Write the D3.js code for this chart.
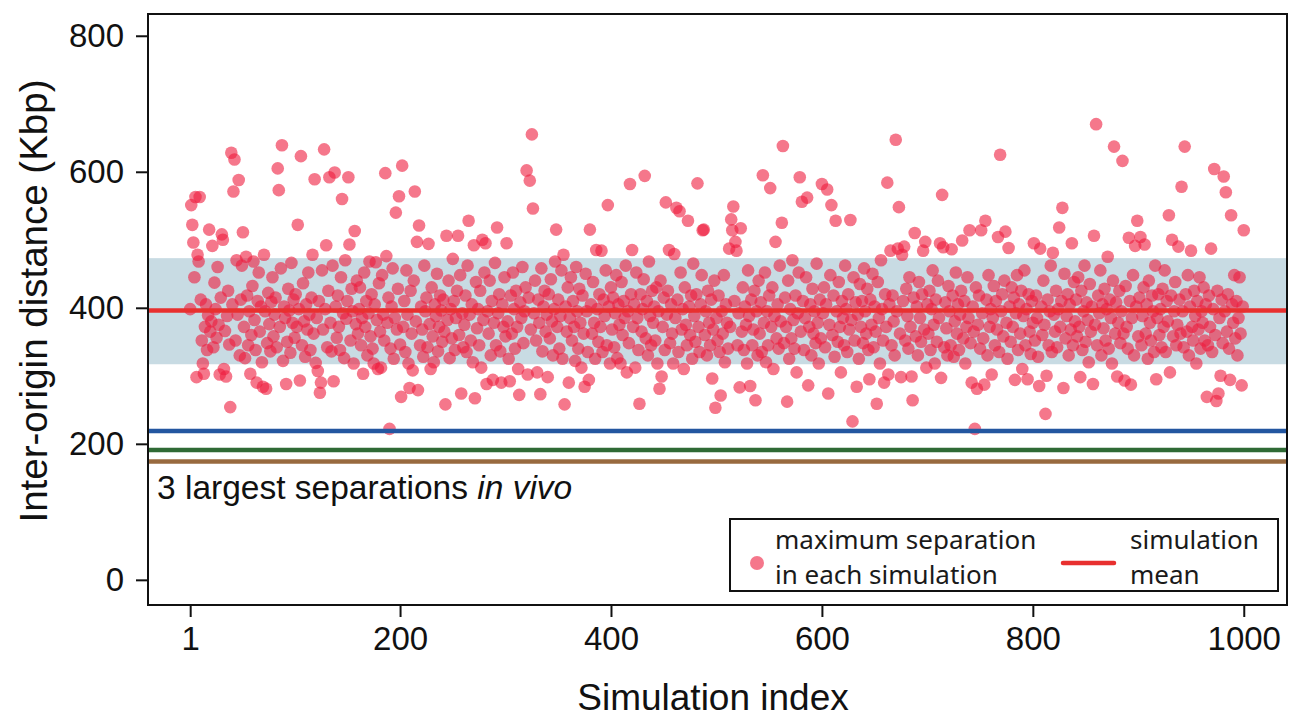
<!DOCTYPE html>
<html>
<head>
<meta charset="utf-8">
<script src="https://cdn.jsdelivr.net/npm/d3@7"></script>
<style>
  body { margin: 0; background: #fff; }
  svg { display: block; }
  .tick text { font-family: "Liberation Sans", Arial, sans-serif; font-size: 33px; fill: #111; }
  .label { font-family: "Liberation Sans", Arial, sans-serif; font-size: 37px; fill: #111; }
  .legend { font-family: "Noto Sans", sans-serif; font-size: 26px; fill: #1a1a1a; }
</style>
</head>
<body>
<svg width="1290" height="717"></svg>
<script>
// maximum inter-origin separation (Kbp) in each of the 1000 simulations
const maxSeparation = [
  398,551,522,496,445,563,298,478,468,563,412,352,318,303,372,405,338,389,515,365,
  380,491,342,437,398,356,460,375,302,415,508,500,310,366,299,388,425,346,254,628,
  405,571,618,352,470,390,588,330,412,462,511,372,326,475,418,345,395,303,360,432,
  468,382,338,290,410,452,365,402,320,284,478,395,281,348,422,376,336,409,445,358,
  390,415,342,605,573,372,458,639,322,402,385,288,350,428,396,334,466,378,412,356,
  420,372,522,398,293,623,345,436,380,328,405,368,452,390,338,415,478,362,589,319,
  385,307,410,275,290,455,368,633,398,492,342,425,592,378,336,462,292,599,402,356,
  418,372,338,445,560,392,326,470,384,410,592,493,352,428,395,318,513,376,440,362,
  398,430,345,385,303,452,372,410,330,392,468,358,420,340,318,405,467,382,310,436,
  365,312,448,390,352,598,476,378,415,222,340,402,458,325,385,540,368,428,564,346,
  269,609,372,410,335,455,390,318,282,425,362,308,440,571,380,497,279,521,345,402,
  368,328,462,395,415,342,494,376,310,430,358,320,405,388,450,336,372,418,396,350,
  412,365,258,506,382,440,326,398,355,472,410,338,385,425,506,360,448,274,392,342,
  375,418,335,462,528,390,352,405,320,492,267,438,370,398,345,425,312,500,382,452,
  495,288,395,362,440,330,410,294,378,466,345,518,392,420,336,290,405,372,445,358,
  495,380,325,292,418,362,452,398,340,425,372,310,272,408,385,460,348,395,430,602,
  302,415,587,368,655,546,392,440,352,305,412,378,273,458,336,402,425,365,390,298,
  420,355,442,380,330,398,468,515,372,412,340,388,455,325,478,258,402,365,430,290,
  385,445,352,410,372,322,460,395,340,428,378,312,418,362,284,450,395,335,294,515,
  405,362,438,378,325,485,398,350,420,372,484,335,412,388,455,345,551,402,318,430,
  368,415,342,392,448,326,405,375,318,438,360,410,385,462,305,395,348,582,420,485,
  372,405,312,452,385,338,259,420,365,398,442,594,355,410,330,468,388,345,425,378,
  402,352,430,318,395,281,440,299,372,415,338,555,390,425,485,348,405,362,318,479,
  385,547,412,335,542,452,368,398,310,430,375,345,528,402,360,418,325,465,388,350,
  420,583,372,335,405,448,514,515,360,395,330,425,378,345,412,296,368,440,253,385,
  352,418,335,271,395,362,448,320,405,378,340,487,372,530,514,549,410,497,484,345,
  392,283,517,365,430,338,402,375,318,455,388,285,412,345,368,425,264,395,330,440,
  362,408,335,595,378,452,320,395,345,418,576,372,430,310,388,497,355,405,340,462,
  380,525,638,348,415,372,262,440,325,398,355,470,382,340,418,305,392,452,592,365,
  556,410,338,385,445,562,286,372,405,330,428,362,395,348,465,378,318,412,355,582,
  392,430,342,405,574,274,375,448,551,360,418,328,528,395,350,438,372,305,410,385,
  345,462,398,335,420,368,529,382,233,445,352,408,284,390,325,435,372,410,348,458,
  395,362,428,338,295,412,375,450,342,402,365,259,438,385,318,470,398,352,290,420,
  372,584,302,405,484,345,418,380,330,647,395,487,548,362,298,478,410,490,352,428,
  388,340,445,372,299,264,415,510,358,402,330,438,385,350,420,484,368,497,312,405,
  362,425,338,398,455,375,318,412,350,440,385,495,297,566,489,342,408,370,330,432,
  395,345,486,418,328,380,452,362,405,338,390,425,499,355,410,318,372,445,385,514,
  348,290,402,365,222,430,281,375,418,340,514,392,355,287,528,412,330,448,372,398,
  302,385,432,345,410,368,504,335,625,395,420,358,440,512,378,325,488,402,350,430,
  372,415,294,392,448,338,405,362,425,310,388,455,345,398,295,420,365,332,410,378,
  495,352,418,385,328,285,487,402,360,440,375,244,300,412,345,395,462,335,481,390,
  365,425,342,398,518,372,410,547,282,450,355,388,420,330,405,368,495,345,438,380,
  412,358,445,372,298,425,338,395,462,350,408,382,320,435,365,402,288,506,375,670,
  345,418,392,455,330,405,370,428,352,398,475,340,412,385,318,440,637,362,408,299,
  378,425,348,395,616,362,293,432,372,340,503,410,287,385,448,330,491,402,528,358,
  415,504,345,388,430,493,362,405,325,440,378,352,418,395,335,462,295,385,420,360,
  398,342,428,372,455,335,410,380,536,305,418,500,358,395,438,345,375,490,412,362,
  578,395,342,637,420,365,448,330,402,484,372,352,425,388,318,410,368,445,340,395,
  378,430,352,405,269,345,418,372,487,335,398,604,360,263,425,274,385,300,412,348,
  593,395,570,365,420,340,294,536,405,378,448,355,410,330,385,445,362,286,402,514
];
const simIndex = d3.range(1, maxSeparation.length + 1);

const simMean = 396;                 // simulation mean
const simBand = [317, 473];          // shaded range around the mean
const inVivo = [219, 191, 174];      // 3 largest separations in vivo
const inVivoColors = ['#2356a0', '#2f6a35', '#986a3f'];

const xTicks = [1, 200, 400, 600, 800, 1000];
const yTicks = [0, 200, 400, 600, 800];

const plotLeft = 148, plotRight = 1287, plotTop = 14, plotBottom = 605;

const svg = d3.select('svg');

const x = d3.scaleLinear().domain([-39, 1041]).range([plotLeft, plotRight]);
const y = d3.scaleLinear().domain([-37, 832]).range([plotBottom, plotTop]);

// shaded band
svg.append('rect')
  .attr('x', plotLeft)
  .attr('width', plotRight - plotLeft)
  .attr('y', y(simBand[1]))
  .attr('height', y(simBand[0]) - y(simBand[1]))
  .attr('fill', '#c8dbe3');

// simulation points
svg.append('g')
  .selectAll('circle')
  .data(maxSeparation)
  .join('circle')
  .attr('cx', (d, i) => x(simIndex[i]))
  .attr('cy', d => y(d))
  .attr('r', 6.3)
  .attr('fill', '#ee1c3d')
  .attr('fill-opacity', 0.6);

// mean line
svg.append('line')
  .attr('x1', plotLeft).attr('x2', plotRight)
  .attr('y1', y(simMean)).attr('y2', y(simMean))
  .attr('stroke', '#e8302f')
  .attr('stroke-width', 4.5);

// in vivo lines
svg.append('g')
  .selectAll('line')
  .data(inVivo)
  .join('line')
  .attr('x1', plotLeft).attr('x2', plotRight)
  .attr('y1', d => y(d)).attr('y2', d => y(d))
  .attr('stroke', (d, i) => inVivoColors[i])
  .attr('stroke-width', 4.5);

svg.append('text')
  .attr('x', 157)
  .attr('y', 499)
  .attr('class', 'label')
  .style('font-size', '33.5px')
  .html('3 largest separations <tspan font-style="italic">in vivo</tspan>');

// axes
const yAxis = svg.append('g')
  .attr('transform', `translate(${plotLeft},0)`)
  .call(d3.axisLeft(y).tickValues(yTicks).tickSize(12).tickPadding(12));
const xAxis = svg.append('g')
  .attr('transform', `translate(0,${plotBottom})`)
  .call(d3.axisBottom(x).tickValues(xTicks).tickFormat(d3.format('d')).tickSize(12).tickPadding(10));

[xAxis, yAxis].forEach(g => {
  g.select('.domain').remove();
  g.selectAll('.tick line').attr('stroke', '#111').attr('stroke-width', 2);
});

// frame
svg.append('rect')
  .attr('x', plotLeft).attr('y', plotTop)
  .attr('width', plotRight - plotLeft).attr('height', plotBottom - plotTop)
  .attr('fill', 'none')
  .attr('stroke', '#111')
  .attr('stroke-width', 2);

// axis titles
svg.append('text')
  .attr('class', 'label')
  .attr('x', 713)
  .attr('y', 710)
  .attr('text-anchor', 'middle')
  .text('Simulation index');

svg.append('text')
  .attr('class', 'label')
  .attr('transform', 'translate(47,301) rotate(-90)')
  .attr('text-anchor', 'middle')
  .style('font-size', '38.5px')
  .text('Inter-origin distance (Kbp)');

// legend
const legend = svg.append('g');
legend.append('rect')
  .attr('x', 730).attr('y', 519)
  .attr('width', 548).attr('height', 72)
  .attr('fill', '#fff')
  .attr('stroke', '#111')
  .attr('stroke-width', 2);
legend.append('circle')
  .attr('cx', 757).attr('cy', 563).attr('r', 7)
  .attr('fill', '#ee1c3d').attr('fill-opacity', 0.6);
legend.append('text').attr('class', 'legend').attr('x', 775).attr('y', 549).text('maximum separation');
legend.append('text').attr('class', 'legend').attr('x', 775).attr('y', 584).text('in each simulation');
legend.append('line')
  .attr('x1', 1063).attr('x2', 1114)
  .attr('y1', 563).attr('y2', 563)
  .attr('stroke', '#e8302f')
  .attr('stroke-width', 4.5)
  .attr('stroke-linecap', 'round');
legend.append('text').attr('class', 'legend').attr('x', 1130).attr('y', 549).text('simulation');
legend.append('text').attr('class', 'legend').attr('x', 1130).attr('y', 584).text('mean');
</script>
</body>
</html>
